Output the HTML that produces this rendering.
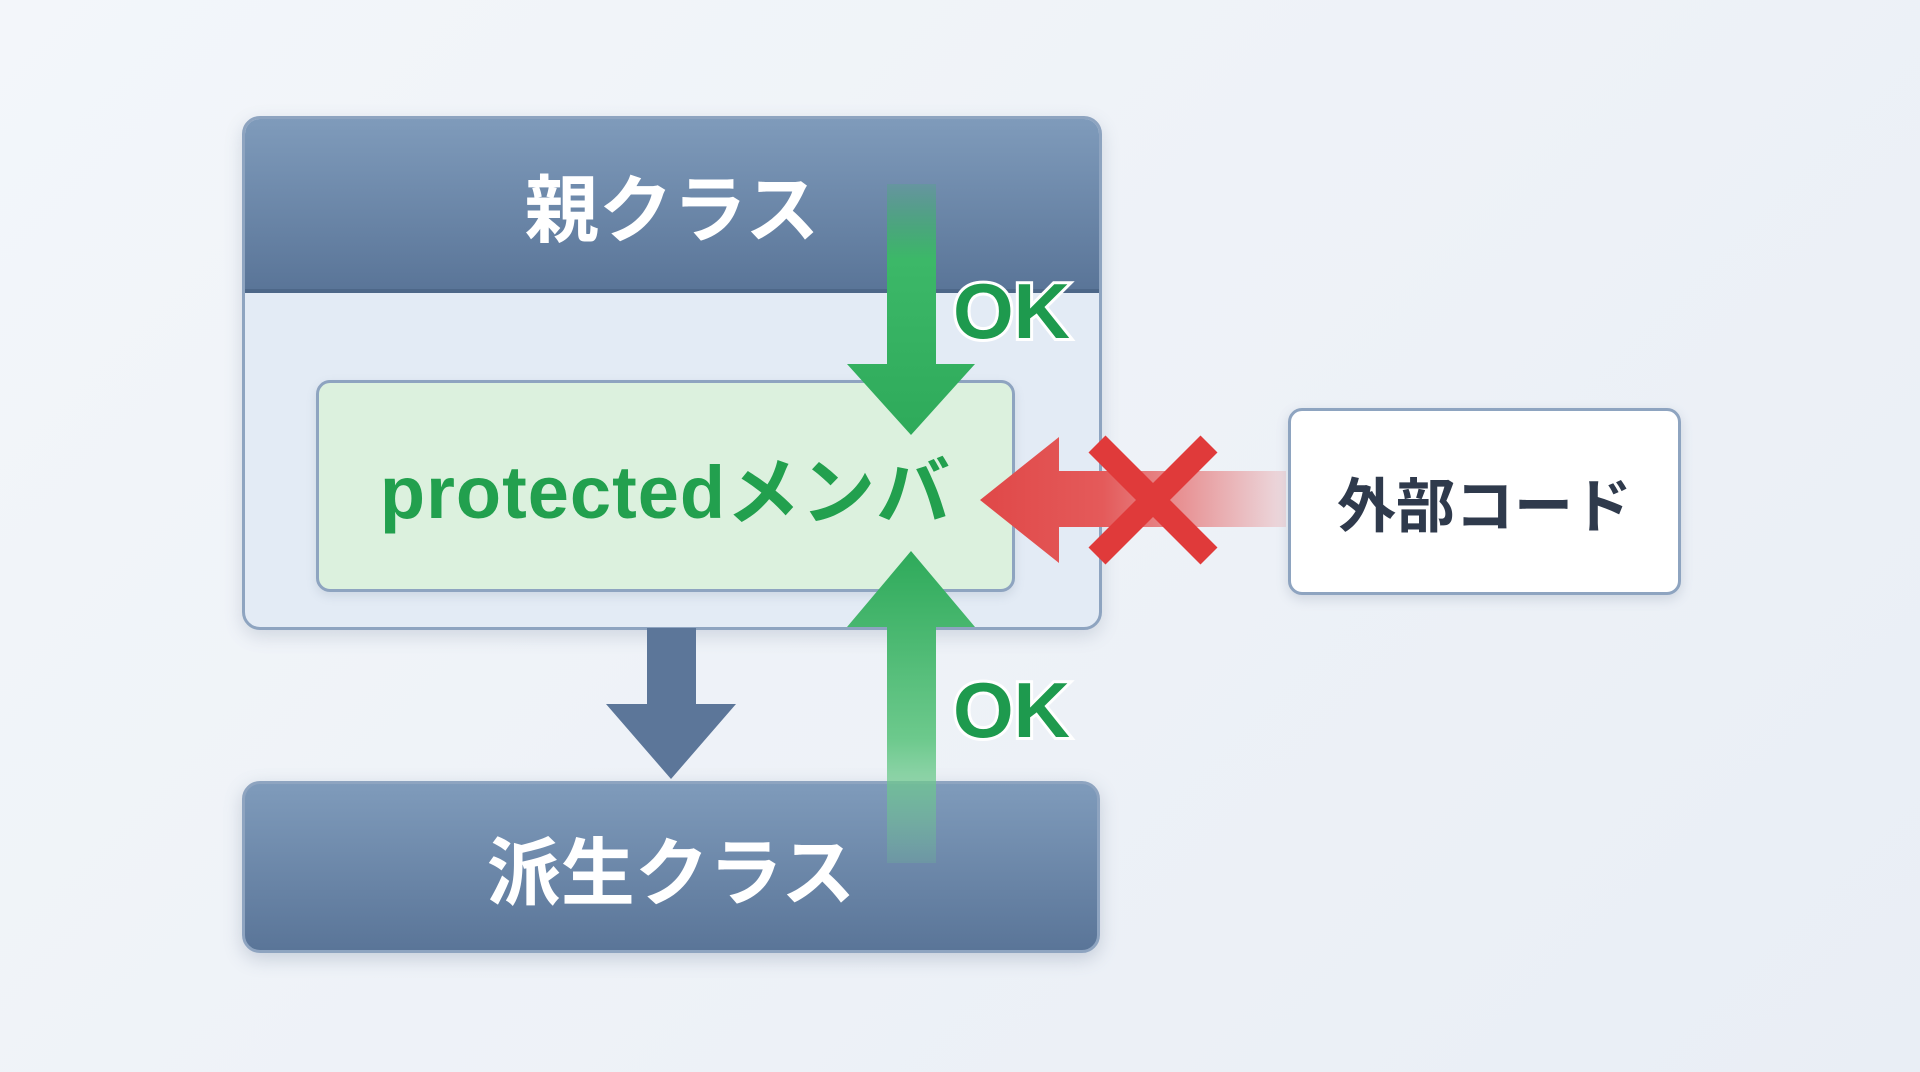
<!DOCTYPE html>
<html><head><meta charset="utf-8"><style>
html,body{margin:0;padding:0}
body{width:1920px;height:1072px;overflow:hidden;background:linear-gradient(135deg,#f3f6fa,#e9eef5);font-family:"Liberation Sans","Noto Sans CJK JP",sans-serif;position:relative}
.abs{position:absolute}
.t{display:flex;align-items:center;justify-content:center;font-weight:bold}
</style></head><body>
<div class="abs" style="left:242px;top:116px;width:854px;height:508px;border:3px solid #8ea4c0;border-radius:18px;background:#e3ebf5;box-shadow:0 6px 18px rgba(80,100,130,.2);overflow:hidden">
 <div class="t" style="position:absolute;left:0;top:0;width:100%;height:170px;background:linear-gradient(#7f9bbb,#5a7598);color:#fff;font-size:74px;border-bottom:4px solid #4d6788">親クラス</div>
</div>
<div class="abs t" style="left:316px;top:380px;width:693px;height:206px;border:3px solid #8ea4c0;border-radius:14px;background:#dcf1de;color:#22a04e;font-size:74px;letter-spacing:1px;box-shadow:0 4px 10px rgba(80,100,130,.15)">protectedメンバ</div>
<div class="abs t" style="left:242px;top:781px;width:858px;height:172px;border-radius:18px;background:linear-gradient(#7f9bbb,#5a7598);color:#fff;font-size:74px;border:3px solid #8ea4c0;box-sizing:border-box;box-shadow:0 6px 18px rgba(80,100,130,.25)">派生クラス</div>
<div class="abs t" style="left:1288px;top:408px;width:393px;height:187px;box-sizing:border-box;border:3px solid #8ea4c0;border-radius:14px;background:#fff;color:#2f3a4c;font-size:59px;box-shadow:0 4px 12px rgba(80,100,130,.2)">外部コード</div>
<svg class="abs" style="left:0;top:0" width="1920" height="1072">
<defs>
<linearGradient id="gd" x1="0" y1="0" x2="0" y2="1"><stop offset="0" stop-color="#3cb868" stop-opacity="0.2"/><stop offset="0.3" stop-color="#3cb868"/><stop offset="1" stop-color="#2eaa5a"/></linearGradient>
<linearGradient id="gu" x1="0" y1="1" x2="0" y2="0"><stop offset="0" stop-color="#6cc98c" stop-opacity="0.2"/><stop offset="0.4" stop-color="#6cc98c"/><stop offset="1" stop-color="#2eaa5a"/></linearGradient>
<linearGradient id="rd" x1="1" y1="0" x2="0" y2="0"><stop offset="0" stop-color="#e45a5a" stop-opacity="0.15"/><stop offset="0.6" stop-color="#e45a5a"/><stop offset="1" stop-color="#e04848"/></linearGradient>
</defs>
<polygon points="647,628 696,628 696,704 736,704 671,779 606,704 647,704" fill="#5c7699"/>
<polygon points="887,184 936,184 936,364 975,364 911,435 847,364 887,364" fill="url(#gd)"/>
<polygon points="887,863 936,863 936,627 975,627 911,551 847,627 887,627" fill="url(#gu)"/>
<polygon points="1286,471 1059,471 1059,437 980,500 1059,563 1059,527 1286,527" fill="url(#rd)"/>
<g stroke="#e03a3a" stroke-width="24" stroke-linecap="butt">
<line x1="1097" y1="444" x2="1209" y2="556"/><line x1="1209" y1="444" x2="1097" y2="556"/></g>
<text x="953" y="338" font-family="Liberation Sans,sans-serif" font-weight="bold" font-size="78" fill="#1e9a4e" stroke="#fff" stroke-width="6" paint-order="stroke">OK</text>
<text x="953" y="737" font-family="Liberation Sans,sans-serif" font-weight="bold" font-size="78" fill="#1e9a4e" stroke="#fff" stroke-width="6" paint-order="stroke">OK</text>
</svg>
</body></html>
